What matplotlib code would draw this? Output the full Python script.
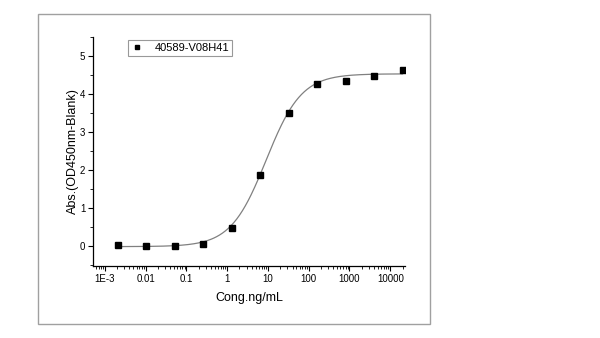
import numpy as np
import matplotlib
matplotlib.use("Agg")
import matplotlib.pyplot as plt
from matplotlib.patches import Rectangle
from matplotlib.ticker import LogLocator, FixedLocator, MultipleLocator, NullFormatter

plt.rcParams['font.family'] = ['Liberation Sans', 'DejaVu Sans']

series_name = "40589-V08H41"
conc = [0.002048, 0.01024, 0.0512, 0.256, 1.28, 6.4, 32, 160, 800, 4000, 20000]
absorb = [0.01, -0.01, -0.01, 0.06, 0.46, 1.86, 3.51, 4.26, 4.35, 4.48, 4.64]
x_ticks = [1e-3, 1e-2, 1e-1, 1, 10, 100, 1000, 10000]
x_tick_labels = ["1E-3", "0.01", "0.1", "1", "10", "100", "1000", "10000"]
y_ticks = [0, 1, 2, 3, 4, 5]
# 4-parameter logistic fit parameters
fit_bottom, fit_top, fit_ec50, fit_hill = -0.02, 4.53, 9.0, 1.0

fig = plt.figure(figsize=(6, 3.38), dpi=100)
fig.patches.append(Rectangle((38/600, 1-324/338), (430-38)/600, (324-14)/338,
                             transform=fig.transFigure, fill=False,
                             edgecolor='#a0a0a0', linewidth=1.0))
ax = fig.add_axes([93/600, 1-266/338, (405-93)/600, (266-37)/338])

xs = np.logspace(np.log10(conc[0]), np.log10(conc[-1]), 300)
ys = fit_bottom + (fit_top - fit_bottom) / (1 + (fit_ec50 / xs) ** fit_hill)
ax.plot(xs, ys, color='#808080', linewidth=0.9, zorder=2)
ax.plot(conc, absorb, linestyle='none', marker='s', markersize=3.8,
        color='black', label=series_name, zorder=3)

ax.set_xscale('log')
ax.set_xlim(5.1e-4, 2.3e4)
ax.set_ylim(-0.53, 5.5)
ax.xaxis.set_major_locator(FixedLocator(x_ticks))
ax.set_xticklabels(x_tick_labels)
ax.xaxis.set_minor_locator(LogLocator(base=10, subs=np.arange(2, 10), numticks=20))
ax.xaxis.set_minor_formatter(NullFormatter())
ax.set_yticks(y_ticks)
ax.yaxis.set_minor_locator(MultipleLocator(0.5))

for s in ['top', 'right']:
    ax.spines[s].set_visible(False)
for s in ['left', 'bottom']:
    ax.spines[s].set_linewidth(0.9)
ax.tick_params(axis='both', which='major', direction='out', length=3.5, width=0.8,
               labelsize=7, pad=2)
ax.tick_params(axis='both', which='minor', direction='out', length=2, width=0.6)

ax.set_xlabel("Cong.ng/mL", fontsize=9, labelpad=6)
ax.set_ylabel("Abs.(OD450nm-Blank)", fontsize=9, labelpad=1)

leg = ax.legend(loc='upper left', bbox_to_anchor=(0.095, 1.01), fontsize=8,
                frameon=True, fancybox=False, handlelength=1.0, handletextpad=1.1,
                borderpad=0.25, markerscale=0.8)
leg.get_frame().set_edgecolor('#808080')
leg.get_frame().set_linewidth(0.8)

fig.savefig("out.png", dpi=100)
